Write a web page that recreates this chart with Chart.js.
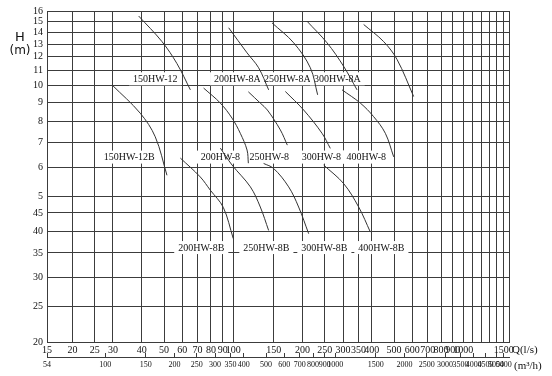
<!DOCTYPE html>
<html>
<head>
<meta charset="utf-8">
<script src="https://cdn.jsdelivr.net/npm/chart.js@4.4.1/dist/chart.umd.min.js"></script>
<style>
  html, body { margin: 0; padding: 0; background: #fff; }
</style>
</head>
<body>
<canvas id="chart" width="552" height="376"></canvas>
<script>
// ticks (y labels kept as printed)
var qTicks = [15, 20, 25, 30, 40, 50, 60, 70, 80, 90, 100, 150, 200, 250, 300, 350, 400, 500, 600, 700, 800, 900, 1000, 1100, 1200, 1300, 1400, 1500];
var qTickLabels = ['15', '20', '25', '30', '40', '50', '60', '70', '80', '90', '100', '150', '200', '250', '300', '350', '400', '500', '600', '700', '800', '900', '1000', '', '', '', '', '1500'];
var m3hTicks = [54, 100, 150, 200, 250, 300, 350, 400, 500, 600, 700, 800, 900, 1000, 1500, 2000, 2500, 3000, 3500, 4000, 4500, 5000, 5400];
var hTicks = [2, 2.5, 3, 3.5, 4, 4.5, 5, 6, 7, 8, 9, 10, 11, 12, 13, 14, 15, 16];
var hTickLabels = ['20', '25', '30', '35', '40', '45', '5', '6', '7', '8', '9', '10', '11', '12', '13', '14', '15', '16'];

// pump curves: Q (l/s) and H (m)
var q150HW12 = [38.8, 49.0, 56.9, 65.1];
var h150HW12 = [15.5, 13.2, 11.5, 9.75];
var q150HW12B = [29.7, 39.4, 45.8, 51.5];
var h150HW12B = [10.06, 8.42, 7.26, 5.7];
var q200HW8A = [95.5, 114.8, 128.9, 142.5];
var h200HW8A = [14.4, 12.3, 11.2, 9.75];
var q250HW8A = [147.4, 183.1, 216.3, 232.7];
var h250HW8A = [14.85, 13.1, 11.2, 9.45];
var q300HW8A = [209.3, 255.7, 301.9, 345.2];
var h300HW8A = [15.0, 13.1, 11.3, 9.75];
var q400HW8A = [368.8, 450.6, 515.2, 608.4];
var h400HW8A = [14.7, 13.2, 11.8, 9.35];
var q200HW8 = [74.3, 87.9, 98.8, 107.3, 114.8, 116.3];
var h200HW8 = [9.86, 8.97, 8.16, 7.42, 6.68, 6.15];
var q250HW8 = [116.3, 131.1, 140.7, 160.2, 171.8];
var h250HW8 = [9.63, 8.97, 8.59, 7.58, 6.89];
var q300HW8 = [168.4, 202.3, 243.2, 264.2];
var h300HW8 = [9.65, 8.59, 7.42, 6.75];
var q400HW8 = [297.1, 356.9, 407.6, 458.3, 498.2];
var h400HW8 = [9.75, 8.97, 8.24, 7.42, 6.4];
var q200HW8B = [58.9, 71.9, 79.5, 90.5, 100.0];
var h200HW8B = [6.35, 5.64, 5.19, 4.66, 3.83];
var q250HW8B = [87.9, 98.8, 118.7, 131.1, 142.5];
var h250HW8B = [6.76, 6.08, 5.3, 4.67, 4.03];
var q300HW8B = [135.5, 149.8, 174.1, 192.4, 212.7];
var h300HW8B = [6.14, 5.95, 5.3, 4.67, 3.95];
var q400HW8B = [247.1, 301.9, 350.9, 394.5];
var h400HW8B = [6.08, 5.41, 4.67, 3.99];

// curve names printed on the chart, anchored at (Q, H)
var lblNames = ['150HW-12', '200HW-8A', '250HW-8A', '300HW-8A', '150HW-12B', '200HW-8', '250HW-8', '300HW-8', '400HW-8', '200HW-8B', '250HW-8B', '300HW-8B', '400HW-8B'];
var lblQ = [45.8, 104.2, 171.8, 283.5, 35.3, 87.9, 143.5, 241.5, 378.9, 72.6, 139.3, 248.9, 440.4];
var lblH = [10.45, 10.45, 10.45, 10.45, 6.39, 6.39, 6.39, 6.39, 6.39, 3.62, 3.62, 3.62, 3.62];

function curve(name, qs, hs) {
  return {
    label: name,
    data: qs.map(function (q, i) { return { x: q, y: hs[i] }; }),
    borderColor: '#333',
    borderWidth: 1,
    pointRadius: 0,
    tension: 0.35,
    fill: false
  };
}

var datasets = [
  curve('150HW-12', q150HW12, h150HW12),
  curve('150HW-12B', q150HW12B, h150HW12B),
  curve('200HW-8A', q200HW8A, h200HW8A),
  curve('250HW-8A', q250HW8A, h250HW8A),
  curve('300HW-8A', q300HW8A, h300HW8A),
  curve('400HW-8A', q400HW8A, h400HW8A),
  curve('200HW-8', q200HW8, h200HW8),
  curve('250HW-8', q250HW8, h250HW8),
  curve('300HW-8', q300HW8, h300HW8),
  curve('400HW-8', q400HW8, h400HW8),
  curve('200HW-8B', q200HW8B, h200HW8B),
  curve('250HW-8B', q250HW8B, h250HW8B),
  curve('300HW-8B', q300HW8B, h300HW8B),
  curve('400HW-8B', q400HW8B, h400HW8B)
];

var serif = '"Liberation Serif", "DejaVu Serif", serif';
var gridCol = '#3c3c3c';

var textPlugin = {
  id: 'texts',
  beforeDatasetsDraw: function (chart) {
    var ctx = chart.ctx, xs = chart.scales.x, ys = chart.scales.y;
    ctx.save();
    ctx.font = '10px ' + serif;
    ctx.textAlign = 'center';
    ctx.textBaseline = 'middle';
    lblNames.forEach(function (n, i) {
      var px = xs.getPixelForValue(lblQ[i]);
      var py = ys.getPixelForValue(lblH[i]);
      var w = ctx.measureText(n).width + 8;
      ctx.fillStyle = '#fff';
      ctx.fillRect(px - w / 2, py - 6.5, w, 13);
      ctx.fillStyle = '#111';
      ctx.fillText(n, px, py + 0.5);
    });
    ctx.restore();
  },
  afterDraw: function (chart) {
    var ctx = chart.ctx, a = chart.chartArea;
    ctx.save();
    ctx.fillStyle = '#111';
    ctx.textAlign = 'center';
    ctx.textBaseline = 'middle';
    ctx.font = '13px "DejaVu Sans", sans-serif';
    ctx.fillText('H', 20, 38);
    ctx.font = '12px "DejaVu Sans", sans-serif';
    ctx.fillText('(m)', 20, 51);
    ctx.textAlign = 'left';
    ctx.font = '11px ' + serif;
    ctx.fillText('Q(l/s)', a.right + 3, a.bottom + 8);
    ctx.fillText('(m\u00B3/h)', a.right + 5, a.bottom + 24);
    ctx.restore();
  }
};

var ctx = document.getElementById('chart').getContext('2d');
var chart = new Chart(ctx, {
  type: 'line',
  data: { datasets: datasets },
  options: {
    responsive: false,
    animation: false,
    devicePixelRatio: 1,
    layout: { padding: { top: 11, right: 43, left: 0, bottom: 0 } },
    plugins: { legend: { display: false }, tooltip: { enabled: false } },
    scales: {
      x: {
        type: 'logarithmic',
        position: 'bottom',
        weight: 0,
        min: 15.5,
        max: 1580,
        afterBuildTicks: function (a) {
          a.ticks = qTicks.map(function (v) { return { value: Math.max(v, a.min) }; });
          a.ticks.push({ value: a.max });
        },
        afterFit: function (a) { a.height = 15; },
        ticks: {
          autoSkip: false,
          maxRotation: 0,
          padding: 2,
          color: '#111',
          font: { family: serif, size: 10 },
          callback: function (v, i) { return qTickLabels[i] || ''; }
        },
        grid: { color: gridCol, lineWidth: 1, drawTicks: false },
        border: { color: gridCol }
      },
      x2: {
        type: 'logarithmic',
        position: 'bottom',
        weight: 1,
        min: 15.5 * 3.6,
        max: 1580 * 3.6,
        afterBuildTicks: function (a) {
          a.ticks = m3hTicks.map(function (v) { return { value: Math.max(v, a.min) }; });
        },
        afterFit: function (a) { a.height = 19; },
        ticks: {
          autoSkip: false,
          maxRotation: 0,
          padding: 7,
          color: '#111',
          font: { family: serif, size: 8 },
          callback: function (v, i) { return String(m3hTicks[i]); }
        },
        grid: { drawOnChartArea: false, drawTicks: true, tickLength: -4, color: gridCol },
        border: { display: true, color: gridCol }
      },
      y: {
        type: 'logarithmic',
        min: 2,
        max: 16,
        afterBuildTicks: function (a) {
          a.ticks = hTicks.map(function (v) { return { value: v }; });
        },
        afterFit: function (a) { a.width = 47; },
        ticks: {
          autoSkip: false,
          padding: 4,
          color: '#111',
          font: { family: serif, size: 10 },
          callback: function (v, i) { return hTickLabels[i]; }
        },
        grid: { color: gridCol, lineWidth: 1, drawTicks: false },
        border: { color: gridCol }
      }
    }
  },
  plugins: [textPlugin]
});
</script>
</body>
</html>
